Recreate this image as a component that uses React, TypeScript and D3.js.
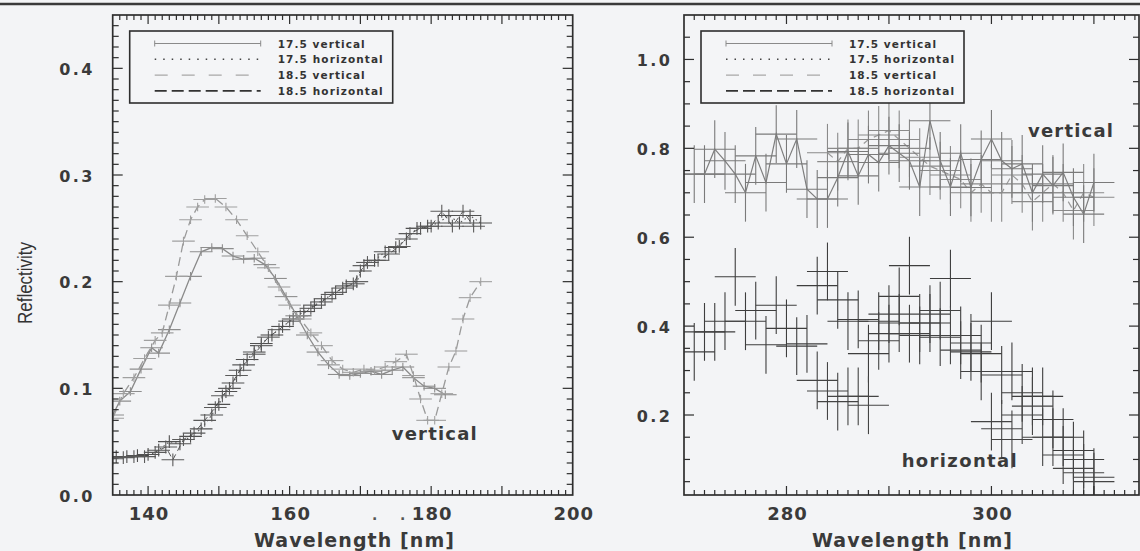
import * as d3 from "d3";

// ---- data ----
// left panel, 130-200 nm
const lv175Wl = [135, 136, 137.5, 139, 140.5, 141.5, 143, 144.5, 146, 147.5, 149, 150.5, 152, 153.5, 155, 156.5, 158, 159.5, 161, 162.5, 164, 165.5, 167, 168.5, 170, 171.5, 173, 174.5, 176, 177.5, 179, 180.5, 182];
const lv175R = [0.075, 0.088, 0.097, 0.118, 0.138, 0.133, 0.155, 0.18, 0.205, 0.228, 0.232, 0.231, 0.224, 0.221, 0.222, 0.216, 0.203, 0.186, 0.168, 0.15, 0.134, 0.122, 0.113, 0.112, 0.114, 0.116, 0.113, 0.117, 0.12, 0.11, 0.102, 0.1, 0.094];

const lv185Wl = [135, 136.5, 138, 139.5, 141, 142, 143, 144, 145, 146, 147, 148, 149.5, 151, 152.5, 154, 155.5, 157, 158.5, 160, 161.5, 163, 164.5, 166, 167.5, 169, 170.5, 172, 173.5, 175, 176.5, 177.5, 178.5, 179.5, 180.5, 181.5, 182.5, 183.5, 184.5, 185.5, 187];
const lv185R = [0.072, 0.095, 0.11, 0.128, 0.145, 0.152, 0.178, 0.205, 0.238, 0.258, 0.27, 0.277, 0.278, 0.27, 0.258, 0.243, 0.228, 0.213, 0.195, 0.178, 0.165, 0.152, 0.14, 0.126, 0.118, 0.115, 0.118, 0.117, 0.12, 0.125, 0.132, 0.112, 0.09, 0.07, 0.07, 0.095, 0.12, 0.135, 0.165, 0.185, 0.2];

const lh175Wl = [135.5, 137, 138.5, 140, 141.5, 143, 144.5, 146, 147.5, 149, 150, 151, 152, 153, 154, 155, 156, 157.5, 159, 160.5, 162, 163.5, 165, 166.5, 168, 169.5, 170.5, 172, 173.5, 175, 176.5, 178, 179.5, 181, 182.5, 184, 185.5, 187];
const lh175R = [0.036, 0.036, 0.037, 0.038, 0.042, 0.05, 0.048, 0.055, 0.062, 0.075, 0.085, 0.097, 0.105, 0.117, 0.127, 0.134, 0.142, 0.15, 0.158, 0.165, 0.172, 0.178, 0.184, 0.19, 0.196, 0.2, 0.215, 0.22, 0.228, 0.232, 0.24, 0.25, 0.252, 0.255, 0.262, 0.255, 0.262, 0.255];

const lh185Wl = [135, 136.5, 138, 139.5, 141, 142.5, 143.5, 145, 146.5, 148, 149.5, 150.5, 151.5, 152.5, 153.5, 155, 156, 157, 158.5, 160, 161.5, 163, 164.5, 166, 167.5, 169, 170, 171, 172.5, 174, 175.5, 177, 178.5, 180, 181.5, 183, 184.5, 186];
const lh185R = [0.034, 0.035, 0.036, 0.036, 0.04, 0.045, 0.033, 0.052, 0.058, 0.07, 0.082, 0.093, 0.1, 0.112, 0.122, 0.132, 0.14, 0.148, 0.155, 0.163, 0.168, 0.175, 0.181, 0.188, 0.194, 0.198, 0.21, 0.218, 0.22, 0.226, 0.233, 0.245, 0.25, 0.252, 0.266, 0.252, 0.266, 0.252];

// right panel, 270-314 nm
const rv175Wl = [271, 272, 273, 274, 275, 276, 277, 278, 279, 280, 281, 282, 283, 284, 285, 286, 287, 288, 289, 290, 291, 292, 293, 294, 295, 296, 297, 298, 299, 300, 301, 302, 303, 304, 305, 306, 307, 308, 309, 310];
const rv175R = [0.742, 0.742, 0.798, 0.772, 0.742, 0.7, 0.783, 0.723, 0.832, 0.765, 0.821, 0.708, 0.686, 0.686, 0.734, 0.793, 0.738, 0.786, 0.768, 0.806, 0.789, 0.772, 0.713, 0.862, 0.772, 0.713, 0.789, 0.712, 0.775, 0.821, 0.772, 0.754, 0.765, 0.7, 0.742, 0.716, 0.746, 0.69, 0.652, 0.723];

const rv185Wl = [284, 285, 286, 287, 288, 289, 290, 291, 292, 293, 294, 295, 296, 297, 298, 299, 300, 301, 302, 303, 304, 305, 306, 307, 308, 309, 310];
const rv185R = [0.79, 0.77, 0.8, 0.8, 0.82, 0.83, 0.84, 0.82, 0.8, 0.78, 0.76, 0.75, 0.74, 0.73, 0.7, 0.72, 0.7, 0.7, 0.74, 0.72, 0.68, 0.7, 0.72, 0.7, 0.66, 0.7, 0.69];

const rh175Wl = [271, 272, 273, 274, 275, 276, 277, 278, 279, 280, 281, 282, 283, 284, 285, 286, 287, 288, 289, 290, 291, 292, 293, 294, 295, 296, 297, 298, 299, 300, 301, 302, 303, 304, 305, 306, 307, 308, 309, 310];
const rh175R = [0.342, 0.387, 0.387, 0.411, 0.511, 0.411, 0.435, 0.358, 0.447, 0.395, 0.355, 0.36, 0.491, 0.523, 0.459, 0.411, 0.415, 0.338, 0.411, 0.383, 0.467, 0.536, 0.379, 0.407, 0.375, 0.507, 0.379, 0.342, 0.338, 0.411, 0.29, 0.298, 0.25, 0.242, 0.242, 0.19, 0.15, 0.12, 0.1, 0.06];

const rh185Wl = [283, 284, 285, 286, 287, 288, 289, 290, 291, 292, 293, 294, 295, 296, 297, 298, 299, 300, 301, 302, 303, 304, 305, 306, 307, 308, 309, 310];
const rh185R = [0.278, 0.254, 0.23, 0.242, 0.242, 0.222, 0.367, 0.427, 0.407, 0.383, 0.407, 0.427, 0.435, 0.379, 0.346, 0.362, 0.298, 0.185, 0.169, 0.145, 0.2, 0.22, 0.15, 0.15, 0.11, 0.08, 0.07, 0.05];

const legendLabels = ["17.5 vertical", "17.5 horizontal", "18.5 vertical", "18.5 horizontal"];
const leftYTicks = [0, 0.1, 0.2, 0.3, 0.4];
const leftXTicks = [140, 160, 180, 200];
const rightYTicks = [0.2, 0.4, 0.6, 0.8, 1.0];
const rightXTicks = [280, 300];

// ---- styling ----
const W = 1140;
const H = 551;
const FONT = "'DejaVu Sans', Verdana, sans-serif";
const INK = "#2e2e2e";
const TOP = 15;
const BOTTOM = 495;

// legend line styles, order matches legendLabels
const legendStyles = [
  { stroke: "#8a8a8a", dash: null, w: 1.2 },
  { stroke: "#444", dash: "1.5 7", w: 1.6 },
  { stroke: "#a8a8a8", dash: "13 14", w: 1.2 },
  { stroke: "#333", dash: "12 5", w: 1.6 },
];

const mk = (wl, r, ex, ey, style) => ({ pts: wl.map((w, i) => [w, r[i]]), ex, ey, ...style });

const panels = [
  {
    id: "L",
    xDomain: [135, 200],
    yDomain: [0, 0.45],
    left: 112.7,
    right: 572.7,
    xMinorStep: 1,
    xMajorStep: 10,
    yMinorStep: 0.01,
    yMajorStep: 0.1,
    yTicks: leftYTicks,
    xTicks: leftXTicks,
    yLabelX: 95,
    yFmt: d3.format(".1f"),
    titleX: 354,
    series: [
      mk(lh175Wl, lh175R, 1.6, 0.006, { line: "#555", dash: "1.5 3", cross: "#505050", lw: 1.1, drawLine: true }),
      mk(lh185Wl, lh185R, 1.6, 0.006, { line: "#444", dash: "6 4", cross: "#5a5a5a", lw: 0.9, drawLine: true }),
      mk(lv175Wl, lv175R, 1.6, 0.004, { line: "#8a8a8a", dash: null, cross: "#8e8e8e", lw: 1.3, drawLine: true }),
      mk(lv185Wl, lv185R, 1.6, 0.004, { line: "#9a9a9a", dash: "9 5", cross: "#a0a0a0", lw: 1.3, drawLine: true }),
    ],
    notes: [{ text: "vertical", x: 391.7, y: 440, len: 85 }],
  },
  {
    id: "R",
    xDomain: [270, 314.4],
    yDomain: [0.02, 1.1],
    left: 684,
    right: 1139,
    xMinorStep: 1,
    xMajorStep: 10,
    yMinorStep: 0.05,
    yMajorStep: 0.2,
    yTicks: rightYTicks,
    xTicks: rightXTicks,
    yLabelX: 672.5,
    yFmt: d3.format(".1f"),
    titleX: 912,
    series: [
      mk(rh175Wl, rh175R, 2, 0.065, { line: "#444", dash: "1.5 3", cross: "#3e3e3e", lw: 1.3, drawLine: false }),
      mk(rh185Wl, rh185R, 2, 0.065, { line: "#333", dash: "6 4", cross: "#444", lw: 1.3, drawLine: false }),
      mk(rv185Wl, rv185R, 2, 0.065, { line: "#9a9a9a", dash: "7 5", cross: "#8a8a8a", lw: 1.2, drawLine: true }),
      mk(rv175Wl, rv175R, 2, 0.065, { line: "#7e7e7e", dash: null, cross: "#7a7a7a", lw: 1.2, drawLine: true }),
    ],
    notes: [
      { text: "vertical", x: 1028, y: 137, len: 85 },
      { text: "horizontal", x: 901.7, y: 467, len: 115 },
    ],
  },
];

const isMult = (v, step) => Math.abs(v / step - Math.round(v / step)) < 1e-6;

function Panel({ p }) {
  const x = d3.scaleLinear().domain(p.xDomain).range([p.left, p.right]);
  const y = d3.scaleLinear().domain(p.yDomain).range([BOTTOM, TOP]);
  const line = d3.line().x((d) => x(d[0])).y((d) => y(d[1]));

  const xMinor = d3
    .range(Math.ceil(p.xDomain[0]), p.xDomain[1], p.xMinorStep)
    .filter((v) => v > p.xDomain[0] + 0.01);
  const yMinor = d3
    .range(p.yMinorStep, p.yDomain[1], p.yMinorStep)
    .filter((v) => v > p.yDomain[0] + 0.001);

  const lg = { x: p.left + 17, y: 31, w: 263, h: 72 };

  return (
    <g>
      <defs>
        <clipPath id={`clip${p.id}`}>
          <rect x={p.left} y={TOP} width={p.right - p.left} height={BOTTOM - TOP} />
        </clipPath>
      </defs>

      <g clipPath={`url(#clip${p.id})`}>
        {p.series.map((s, si) => (
          <g key={si}>
            {s.drawLine && (
              <path d={line(s.pts)} fill="none" stroke={s.line} strokeWidth={s.lw} strokeDasharray={s.dash || undefined} />
            )}
            {s.pts.map((d, i) => (
              <g key={i} stroke={s.cross} strokeWidth={1.1}>
                <line x1={x(d[0] - s.ex)} x2={x(d[0] + s.ex)} y1={y(d[1])} y2={y(d[1])} />
                <line x1={x(d[0])} x2={x(d[0])} y1={y(d[1] - s.ey)} y2={y(d[1] + s.ey)} />
              </g>
            ))}
          </g>
        ))}
      </g>

      {/* ticks, inward on all four sides */}
      <g stroke={INK} strokeWidth={1.2}>
        {xMinor.map((v) => {
          const len = isMult(v, p.xMajorStep) ? 9 : 5;
          return (
            <g key={`x${v}`}>
              <line x1={x(v)} x2={x(v)} y1={BOTTOM} y2={BOTTOM - len} />
              <line x1={x(v)} x2={x(v)} y1={TOP} y2={TOP + len} />
            </g>
          );
        })}
        {yMinor.map((v) => {
          const len = isMult(v, p.yMajorStep) ? 10 : 6;
          return (
            <g key={`y${v}`}>
              <line x1={p.left} x2={p.left + len} y1={y(v)} y2={y(v)} />
              <line x1={p.right} x2={p.right - len} y1={y(v)} y2={y(v)} />
            </g>
          );
        })}
      </g>
      <rect x={p.left} y={TOP} width={p.right - p.left} height={BOTTOM - TOP} fill="none" stroke={INK} strokeWidth={1.7} />

      {/* tick labels */}
      <g fontFamily={FONT} fontWeight="bold" fill="#3a3a3a">
        {p.yTicks.map((v) => (
          <text key={v} x={p.yLabelX} y={y(v) + 6.5} textAnchor="end" fontSize={16} letterSpacing={2.5}>
            {p.yFmt(v)}
          </text>
        ))}
        {p.xTicks.map((v) => (
          <text key={v} x={x(v) + 1} y={520} textAnchor="middle" fontSize={18} letterSpacing={1}>
            {v}
          </text>
        ))}
        <text x={p.titleX} y={547} textAnchor="middle" fontSize={19} textLength={200} lengthAdjust="spacing">
          Wavelength [nm]
        </text>
        {p.notes.map((n) => (
          <text key={n.text} x={n.x} y={n.y} fontSize={18} textLength={n.len} lengthAdjust="spacing">
            {n.text}
          </text>
        ))}
      </g>

      {/* legend */}
      <rect x={lg.x} y={lg.y} width={lg.w} height={lg.h} fill="#f4f5f7" stroke={INK} strokeWidth={1.6} />
      {legendLabels.map((lab, i) => {
        const ly = lg.y + 12.5 + i * 15.8;
        const st = legendStyles[i];
        return (
          <g key={lab}>
            <line x1={lg.x + 25} x2={lg.x + 131} y1={ly} y2={ly} stroke={st.stroke} strokeWidth={st.w} strokeDasharray={st.dash || undefined} />
            {i === 0 && (
              <g stroke={st.stroke} strokeWidth={1}>
                <line x1={lg.x + 25} x2={lg.x + 25} y1={ly - 3} y2={ly + 3} />
                <line x1={lg.x + 131} x2={lg.x + 131} y1={ly - 3} y2={ly + 3} />
              </g>
            )}
            <text
              x={lg.x + 148}
              y={ly + 4}
              fontFamily={FONT}
              fontWeight="bold"
              fontSize={10.5}
              fill="#333"
              textLength={lab.includes("horizontal") ? 105 : 87}
              lengthAdjust="spacing"
            >
              {lab}
            </text>
          </g>
        );
      })}
    </g>
  );
}

export default function App() {
  return (
    <svg
      width={W}
      height={H}
      viewBox={`0 0 ${W} ${H}`}
      style={{ position: "absolute", left: 0, top: 0, display: "block" }}
    >
      <rect x={0} y={0} width={W} height={H} fill="#f3f4f6" />
      <line x1={0} x2={W} y1={4} y2={4} stroke="#3a3a3a" strokeWidth={2.5} />
      {panels.map((p) => (
        <Panel key={p.id} p={p} />
      ))}
      <text
        transform="translate(32,283) rotate(-90)"
        textAnchor="middle"
        fontFamily="'Liberation Sans Narrow', 'Liberation Sans', Arial, sans-serif"
        fontSize={21}
        fill="#333"
        textLength={82}
        lengthAdjust="spacingAndGlyphs"
      >
        Reflectivity
      </text>
      <text x={372} y={520} fontFamily={FONT} fontWeight="bold" fontSize={14} fill="#555">
        .
      </text>
      <text x={400} y={520} fontFamily={FONT} fontWeight="bold" fontSize={14} fill="#555">
        .
      </text>
    </svg>
  );
}
